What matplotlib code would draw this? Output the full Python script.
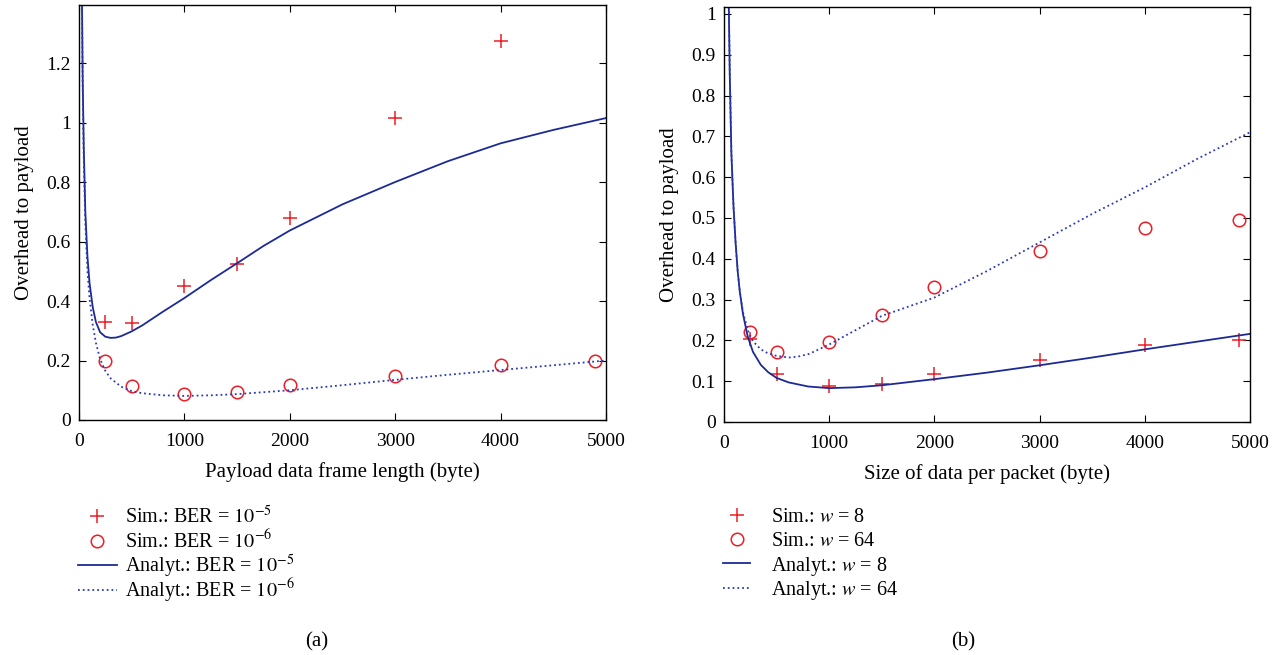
import matplotlib
matplotlib.use('Agg')
import matplotlib.pyplot as plt

plt.rcParams['font.family'] = ['Liberation Serif', 'DejaVu Serif']
plt.rcParams['mathtext.fontset'] = 'stix'

# (a) simulation points
sim_x_a5 = [250, 500, 1000, 1500, 2000, 3000, 4000]
sim_y_a5 = [0.33, 0.325, 0.45, 0.525, 0.68, 1.015, 1.275]
sim_x_a6 = [250, 500, 1000, 1500, 2000, 3000, 4000, 4900]
sim_y_a6 = [0.20, 0.115, 0.088, 0.093, 0.117, 0.147, 0.185, 0.197]

# (a) analytical curves
an_x_a5 = [28, 35, 45, 60, 80, 100, 130, 160, 200, 250, 300, 350, 400, 500, 600, 800,
           1000, 1250, 1500, 1750, 2000, 2500, 3000, 3500, 4000, 4500, 5000]
an_y_a5 = [1.42, 1.15, 0.92, 0.70, 0.55, 0.46, 0.38, 0.33, 0.295, 0.28, 0.276, 0.277, 0.282,
           0.298, 0.318, 0.365, 0.41, 0.47, 0.527, 0.585, 0.637, 0.725, 0.80, 0.87, 0.93, 0.975, 1.015]
an_x_a6 = [28, 35, 45, 60, 80, 100, 130, 160, 200, 250, 300, 400, 500, 600, 800,
           1000, 1250, 1500, 2000, 2500, 3000, 3500, 4000, 4500, 5000]
an_y_a6 = [1.40, 1.12, 0.88, 0.66, 0.50, 0.41, 0.32, 0.26, 0.205, 0.165, 0.14, 0.112, 0.097, 0.09,
           0.083, 0.081, 0.083, 0.087, 0.10, 0.117, 0.135, 0.152, 0.168, 0.184, 0.20]

# (b) simulation points
sim_x_b8 = [250, 500, 1000, 1500, 2000, 3000, 4000, 4900]
sim_y_b8 = [0.204, 0.118, 0.087, 0.094, 0.118, 0.151, 0.188, 0.20]
sim_x_b64 = [250, 500, 1000, 1500, 2000, 3000, 4000, 4900]
sim_y_b64 = [0.22, 0.171, 0.196, 0.261, 0.33, 0.419, 0.476, 0.496]

# (b) analytical curves
an_x_b8 = [45, 55, 70, 90, 110, 130, 150, 180, 225, 275, 350, 420, 500, 615, 800,
           1000, 1250, 1500, 2000, 2500, 3000, 3500, 4000, 4500, 5000]
an_y_b8 = [1.03, 0.85, 0.66, 0.53, 0.44, 0.37, 0.32, 0.265, 0.21, 0.172, 0.14, 0.122, 0.108,
           0.097, 0.087, 0.083, 0.085, 0.09, 0.105, 0.121, 0.139, 0.158, 0.178, 0.197, 0.216]
an_x_b64 = [45, 55, 70, 90, 110, 130, 150, 180, 225, 275, 350, 420, 500, 615, 700, 810,
            1000, 1250, 1500, 2000, 2500, 3000, 3500, 4000, 4500, 5000]
an_y_b64 = [1.03, 0.85, 0.66, 0.53, 0.44, 0.37, 0.32, 0.27, 0.225, 0.198, 0.178, 0.168, 0.162,
            0.158, 0.16, 0.167, 0.19, 0.225, 0.26, 0.305, 0.37, 0.44, 0.51, 0.575, 0.645, 0.71]

red = '#ee1c24'
blue = '#1c2a96'
blue_dot = '#2b3ab8'
fs = 14
lfs = 15

W, H = 1287, 655
fig = plt.figure(figsize=(12.87, 6.55), dpi=100)
ax1 = fig.add_axes([79 / W, 1 - 420 / H, (606 - 79) / W, (420 - 5) / H])
ax2 = fig.add_axes([724 / W, 1 - 422 / H, (1250 - 724) / W, (422 - 7) / H])

# legend row centres (pixels from top)
row_y = [517, 541, 566, 591]


def style(ax):
    ax.tick_params(direction='in', top=True, right=True, length=5, labelsize=fs)
    ax.tick_params(axis='x', pad=9)
    ax.tick_params(axis='y', pad=6)
    for s in ax.spines.values():
        s.set_linewidth(1.0)
    ax.set_xlim(0, 5000)
    ax.set_xticks([0, 1000, 2000, 3000, 4000, 5000])
    ax.set_ylabel('Overhead to payload', fontsize=lfs, labelpad=9)


def rows_legend(ax, x0, hl, pad):
    handles, labels = ax.get_legend_handles_labels()
    for h, l, y in zip(handles, labels, row_y):
        fig.legend([h], [l], loc='center left', bbox_to_anchor=(x0 / W, 1 - y / H),
                   frameon=False, fontsize=14.5, handlelength=hl, handletextpad=pad,
                   borderpad=0, borderaxespad=0)


# (a)
ax1.plot(sim_x_a5, sim_y_a5, '+', color=red, ms=10, mew=1.1, label=r'Sim.: BER = $10^{-5}$')
ax1.plot(sim_x_a6, sim_y_a6, 'o', color=red, mfc='none', ms=9, mew=1.1, label=r'Sim.: BER = $10^{-6}$')
ax1.plot(an_x_a5, an_y_a5, '-', color=blue, lw=1.3, label=r'Analyt.: BER = $10^{-5}$')
ax1.plot(an_x_a6, an_y_a6, ':', color=blue_dot, lw=1.3, label=r'Analyt.: BER = $10^{-6}$')
style(ax1)
ax1.set_ylim(0, 1.395)
ax1.set_yticks([0, 0.2, 0.4, 0.6, 0.8, 1.0, 1.2])
ax1.set_yticklabels(['0', '0.2', '0.4', '0.6', '0.8', '1', '1.2'])
ax1.set_xlabel('Payload data frame length (byte)', fontsize=lfs, labelpad=9)
rows_legend(ax1, 78, 1.93, 0.42)
fig.text(317 / W, 1 - 642 / H, '(a)', fontsize=lfs, ha='center', va='center')

# (b)
ax2.plot(sim_x_b8, sim_y_b8, '+', color=red, ms=10, mew=1.1, label=r'Sim.: $w$ = 8')
ax2.plot(sim_x_b64, sim_y_b64, 'o', color=red, mfc='none', ms=9, mew=1.1, label=r'Sim.: $w$ = 64')
ax2.plot(an_x_b8, an_y_b8, '-', color=blue, lw=1.3, label=r'Analyt.: $w$ = 8')
ax2.plot(an_x_b64, an_y_b64, ':', color=blue_dot, lw=1.3, label=r'Analyt.: $w$ = 64')
style(ax2)
ax2.set_ylim(0, 1.017)
ax2.set_yticks([0, 0.1, 0.2, 0.3, 0.4, 0.5, 0.6, 0.7, 0.8, 0.9, 1.0])
ax2.set_yticklabels(['0', '0.1', '0.2', '0.3', '0.4', '0.5', '0.6', '0.7', '0.8', '0.9', '1'])
ax2.set_xlabel('Size of data per packet (byte)', fontsize=lfs, labelpad=9)
rows_legend(ax2, 723, 1.35, 1.03)
fig.text(963 / W, 1 - 642 / H, '(b)', fontsize=lfs, ha='center', va='center')

fig.savefig('out.png', dpi=100)
